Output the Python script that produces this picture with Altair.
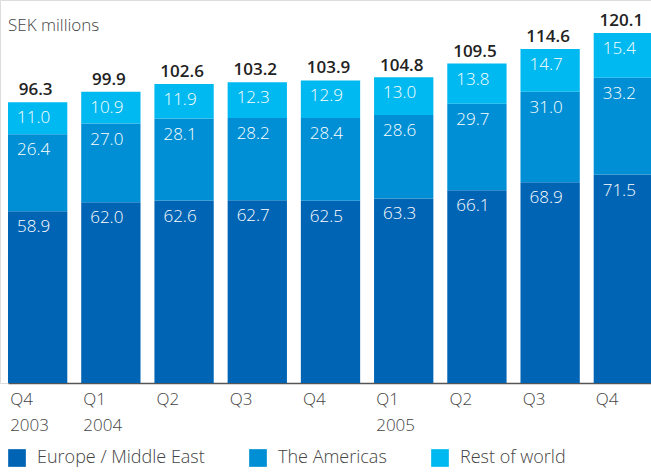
import altair as alt
import pandas as pd

quarters = ["Q4 2003", "Q1 2004", "Q2 2004", "Q3 2004", "Q4 2004",
            "Q1 2005", "Q2 2005", "Q3 2005", "Q4 2005"]
regions = ["Europe / Middle East", "The Americas", "Rest of world"]
europe = [58.9, 62.0, 62.6, 62.7, 62.5, 63.3, 66.1, 68.9, 71.5]
americas = [26.4, 27.0, 28.1, 28.2, 28.4, 28.6, 29.7, 31.0, 33.2]
rest = [11.0, 10.9, 11.9, 12.3, 12.9, 13.0, 13.8, 14.7, 15.4]
totals = [96.3, 99.9, 102.6, 103.2, 103.9, 104.8, 109.5, 114.6, 120.1]
colors = ["#0064B4", "#008FD4", "#00B9F0"]

rows = []
for i, q in enumerate(quarters):
    for k, (reg, vals) in enumerate(zip(regions, [europe, americas, rest])):
        rows.append({"quarter": q, "region": reg, "ord": k, "value": vals[i],
                     "label": f"{vals[i]:.1f}"})
df = pd.DataFrame(rows)
tot = pd.DataFrame({"quarter": quarters, "total": totals,
                    "label": [f"{t:.1f}" for t in totals]})

FONT = "Open Sans"
xscale = alt.Scale(domain=quarters, range=[8, 653], paddingInner=0.19, paddingOuter=0)
yscale = alt.Scale(domain=[0, 131.39], nice=False, zero=True)

x = alt.X("quarter:N", scale=xscale, sort=quarters, title=None,
          axis=alt.Axis(labelAlign="left", labelAngle=0, ticks=False, labelOffset=-27.5,
                        domainColor="#555555", domainWidth=1.5, labelFontSize=17,
                        labelFont=FONT, labelFontWeight=300, labelColor="#444444",
                        labelPadding=8, labelLineHeight=26, grid=False,
                        labelBaseline="top",
                        labelExpr="indexof(['Q4 2003','Q1 2004','Q1 2005'], datum.value) >= 0 ? split(datum.value, ' ') : slice(datum.value, 0, 2)"))

base = alt.Chart(df).transform_stack(
    stack="value", groupby=["quarter"], as_=["y0", "y1"],
    sort=[alt.SortField("ord", order="ascending")])

bars = base.mark_bar().encode(
    x=x,
    y=alt.Y("y0:Q", scale=yscale, axis=None),
    y2="y1:Q",
    color=alt.Color("region:N", scale=alt.Scale(domain=regions, range=colors),
                    legend=alt.Legend(orient="none", legendX=8, legendY=449,
                                      direction="horizontal", title=None,
                                      symbolType="square", symbolSize=313,
                                      symbolStrokeWidth=0, symbolOpacity=1,
                                      labelFontSize=18, labelFont=FONT,
                                      labelFontWeight=300, labelColor="#444444",
                                      labelOffset=11, columnPadding=44,
                                      labelLimit=400)),
)

seg_text = base.mark_text(align="left", baseline="alphabetic", dx=9, dy=21,
                          fontSize=17, font=FONT, fontWeight=300, color="white").encode(
    x=alt.X("quarter:N", scale=xscale, sort=quarters, bandPosition=0),
    y=alt.Y("y1:Q", scale=yscale),
    text="label:N",
)

tot_text = alt.Chart(tot).mark_text(align="center", baseline="alphabetic", dx=-2, dy=-7,
                                     fontSize=17, font=FONT, fontWeight=600,
                                     color="#222222").encode(
    x=alt.X("quarter:N", scale=xscale, sort=quarters, bandPosition=0.5),
    y=alt.Y("total:Q", scale=yscale),
    text="label:N",
)

chart = alt.layer(bars, seg_text, tot_text).properties(
    width=651, height=383,
    autosize=alt.AutoSizeParams(type="none"),
    padding={"left": 0, "top": 0, "right": 0, "bottom": 92},
    title=alt.TitleParams("SEK millions", anchor="start", frame="group", orient="top",
                          offset=0, dx=8, dy=48, baseline="alphabetic",
                          fontSize=17, font=FONT, fontWeight=300, color="#444444"),
).configure_view(stroke=None).configure(background="white")

chart.save("out.html", embed_options={"renderer": "svg", "actions": False})
